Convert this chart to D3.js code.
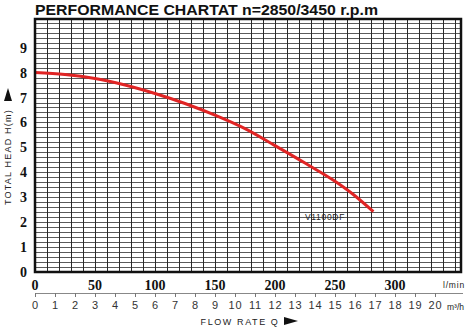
<!DOCTYPE html>
<html><head><meta charset="utf-8">
<script src="https://cdn.jsdelivr.net/npm/d3@7"></script>
<style>body{margin:0;background:#fff}svg{display:block}</style>
</head><body>
<svg id="c" width="470" height="331"></svg>
<script>
const flowLpm = [0, 25, 50, 75, 100, 125, 150, 175, 200, 225, 250, 265, 282];
const headM   = [8.0, 7.92, 7.76, 7.5, 7.16, 6.76, 6.29, 5.75, 5.07, 4.37, 3.64, 3.12, 2.42];
const lpmTicks = [0, 50, 100, 150, 200, 250, 300];
const m3hTicks = [0,1,2,3,4,5,6,7,8,9,10,11,12,13,14,15,16,17,18,19,20];
const headTicks = [0,1,2,3,4,5,6,7,8,9];
const seriesName = "V1100DF";
const title = "PERFORMANCE CHARTAT n=2850/3450 r.p.m";

const svg = d3.select("#c");
const L = 35, R = 461, T = 19, B = 272;
const x = d3.scaleLinear().domain([0, 355]).range([L, R]);
const y = d3.scaleLinear().domain([0, 10.15]).range([B, T]);
const x2 = d3.scaleLinear().domain([0, 355/16.6667]).range([L, R]);

// title
svg.append("text").attr("x", 35).attr("y", 15)
  .attr("textLength", 343).attr("lengthAdjust", "spacingAndGlyphs")
  .style("font-family", "'Liberation Sans', Arial, sans-serif").style("font-weight", "bold")
  .style("font-size", "15.5px").attr("fill", "#111").text(title);

// grid
const g = svg.append("g");
g.selectAll("line.h").data(d3.range(1, 51).map(i => i * 0.2)).join("line")
  .attr("x1", L).attr("x2", R).attr("y1", d => Math.round(y(d)) + 0.5).attr("y2", d => Math.round(y(d)) + 0.5)
  .attr("stroke", "#5a5a5a").attr("stroke-width", 1);
g.selectAll("line.v").data(d3.range(10, 355, 10)).join("line")
  .attr("y1", T).attr("y2", B).attr("x1", d => Math.round(x(d)) + 0.5).attr("x2", d => Math.round(x(d)) + 0.5)
  .attr("stroke", "#2a2a2a").attr("stroke-width", 1);

// curve
const pts = flowLpm.map((q, i) => [q, headM[i]]);
svg.append("path").datum(pts)
  .attr("d", d3.line().x(d => x(d[0])).y(d => y(d[1])).curve(d3.curveMonotoneX))
  .attr("fill", "none").attr("stroke", "#e02424").attr("stroke-width", 3);

// frame
svg.append("rect").attr("x", L).attr("y", T).attr("width", R - L).attr("height", B - T)
  .attr("fill", "none").attr("stroke", "#111").attr("stroke-width", 2.5);

// series label
svg.append("text").attr("x", 325).attr("y", 220).attr("text-anchor", "middle")
  .style("font-family", "'Liberation Sans', Arial, sans-serif").style("font-size", "8.5px")
  .style("letter-spacing", "0.7px").attr("fill", "#222").text(seriesName);

// y tick labels
svg.selectAll("text.yt").data(headTicks).join("text")
  .attr("x", 27).attr("y", d => y(d) + 5).attr("text-anchor", "end")
  .style("font-family", "'Liberation Serif', 'Times New Roman', serif").style("font-weight", "bold")
  .style("font-size", "14px").attr("fill", "#111").text(d => d);

// y title
const yt = svg.append("g").attr("transform", "translate(11,157) rotate(-90)");
yt.append("text").attr("text-anchor", "middle")
  .style("font-family", "'Liberation Sans', Arial, sans-serif").style("font-size", "9px")
  .style("letter-spacing", "1.2px").attr("fill", "#222").text("TOTAL HEAD H(m)");
svg.append("path").attr("d", "M8,88 L4,101 L12,101 Z").attr("fill", "#111");

// lpm labels
svg.selectAll("text.xt").data(lpmTicks).join("text")
  .attr("x", d => x(d)).attr("y", 290).attr("text-anchor", "middle")
  .style("font-family", "'Liberation Serif', 'Times New Roman', serif").style("font-weight", "bold")
  .style("font-size", "14px").attr("fill", "#111").text(d => d);
svg.append("text").attr("x", 454).attr("y", 288).attr("text-anchor", "middle")
  .style("font-family", "'Liberation Sans', Arial, sans-serif").style("font-size", "8.5px")
  .style("letter-spacing", "0.8px").attr("fill", "#222").text("l/min");

// m3/h axis
const ax = svg.append("g").attr("transform", "translate(0,293)")
  .call(d3.axisBottom(x2).tickValues(m3hTicks).tickSize(4).tickSizeOuter(0).tickFormat(d3.format("d")));
ax.select(".domain").attr("stroke", "#888").attr("d", "M35,0.5H463");
ax.selectAll(".tick line").attr("stroke", "#777");
ax.selectAll(".tick text").attr("y", 8)
  .style("font-family", "'Liberation Sans', Arial, sans-serif").style("font-size", "11px")
  .style("letter-spacing", "0.8px").attr("fill", "#333");
svg.append("text").attr("x", 447).attr("y", 310).attr("text-anchor", "start")
  .style("font-family", "'Liberation Sans', Arial, sans-serif").style("font-size", "8.5px")
  .attr("fill", "#222").text("m³/h");

// x title
svg.append("text").attr("x", 240).attr("y", 325).attr("text-anchor", "middle")
  .style("font-family", "'Liberation Sans', Arial, sans-serif").style("font-size", "9px")
  .style("letter-spacing", "1.6px").attr("fill", "#222").text("FLOW RATE Q");
svg.append("path").attr("d", "M284,317 L298,321 L284,325 Z").attr("fill", "#111");
</script>
</body></html>
